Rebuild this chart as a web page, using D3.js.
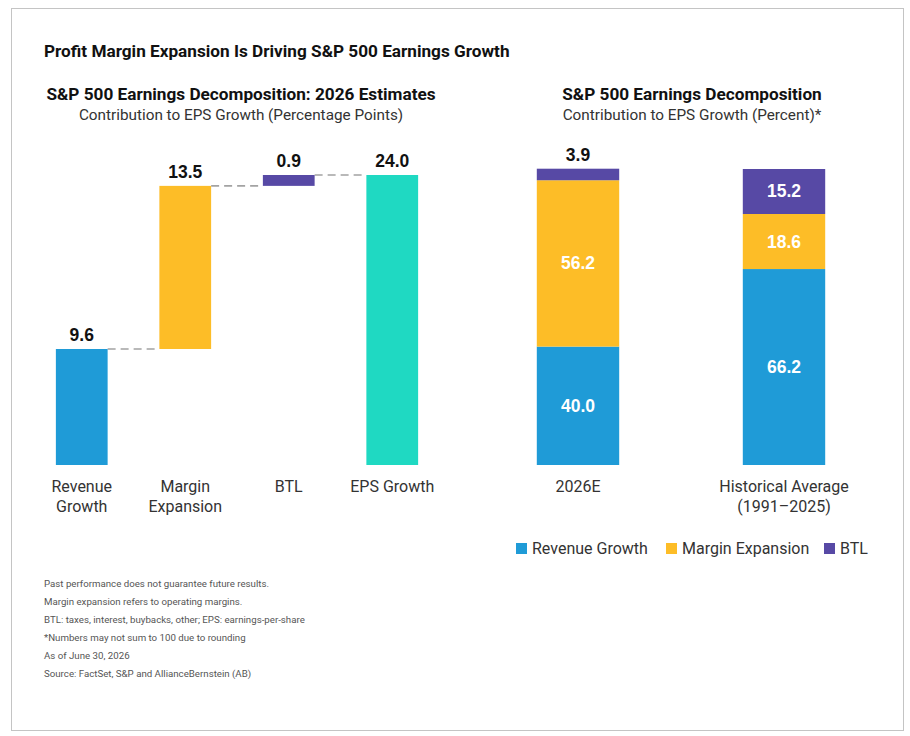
<!DOCTYPE html>
<html>
<head>
<meta charset="utf-8">
<script src="https://cdn.jsdelivr.net/npm/d3@7"></script>
<style>
  body { margin: 0; background: #fff; }
  svg { display: block; }
</style>
</head>
<body>
<svg id="chart"></svg>
<script>
// left chart: waterfall, percentage points
const stepNames = ["Revenue Growth", "Margin Expansion", "BTL", "EPS Growth"];
const stepLines = [["Revenue", "Growth"], ["Margin", "Expansion"], ["BTL"], ["EPS Growth"]];
const stepValues = [9.6, 13.5, 0.9, 24.0];
const stepIsTotal = [false, false, false, true];

// right chart: stacked, percent
const periods = ["2026E", "Historical Average"];
const periodLines = [["2026E"], ["Historical Average", "(1991\u20132025)"]];
const seriesNames = ["Revenue Growth", "Margin Expansion", "BTL"];
const revenueShare = [40.0, 66.2];
const marginShare = [56.2, 18.6];
const btlShare = [3.9, 15.2];

const notes = [
  "Past performance does not guarantee future results.",
  "Margin expansion refers to operating margins.",
  "BTL: taxes, interest, buybacks, other; EPS: earnings-per-share",
  "*Numbers may not sum to 100 due to rounding",
  "As of June 30, 2026",
  "Source: FactSet, S&P and AllianceBernstein (AB)"
];

const colors = {
  "Revenue Growth": "#1f9bd7",
  "Margin Expansion": "#fdbd27",
  "BTL": "#5749a5",
  "EPS Growth": "#1fd9c2"
};

const W = 910, H = 736;
const svg = d3.select("#chart").attr("width", W).attr("height", H);

// frame
svg.append("rect")
  .attr("x", 11.5).attr("y", 8.5)
  .attr("width", 892).attr("height", 722)
  .attr("fill", "#fff").attr("stroke", "#c4c4c4");

const titleFont = "Roboto, 'Liberation Sans', sans-serif";
const labelFont = "'Liberation Sans', Arial, sans-serif";

svg.append("text")
  .attr("x", 44).attr("y", 57)
  .attr("font-family", titleFont).attr("font-weight", 700)
  .attr("font-size", 17.2).attr("fill", "#111")
  .text("Profit Margin Expansion Is Driving S&P 500 Earnings Growth");

function heading(cx, title, sub) {
  svg.append("text")
    .attr("x", cx).attr("y", 100).attr("text-anchor", "middle")
    .attr("font-family", titleFont).attr("font-weight", 700)
    .attr("font-size", 17.2).attr("fill", "#111")
    .text(title);
  svg.append("text")
    .attr("x", cx).attr("y", 120).attr("text-anchor", "middle")
    .attr("font-family", titleFont).attr("font-weight", 400)
    .attr("font-size", 15.3).attr("fill", "#333")
    .text(sub);
}
heading(241, "S&P 500 Earnings Decomposition: 2026 Estimates", "Contribution to EPS Growth (Percentage Points)");
heading(692, "S&P 500 Earnings Decomposition", "Contribution to EPS Growth (Percent)*");

// ---- waterfall ----
const x1 = d3.scaleBand().domain(stepNames).range([30, 444])
  .paddingInner(0.5).paddingOuter(0.25);
const y1 = d3.scaleLinear().domain([0, 24]).range([465, 175]);

let run = 0;
const steps = stepNames.map((name, i) => {
  const v = stepValues[i];
  let lo, hi;
  if (stepIsTotal[i]) { lo = 0; hi = v; }
  else { lo = run; hi = run + v; run = hi; }
  return { name, lines: stepLines[i], value: v, lo, hi };
});

const left = svg.append("g");

// dashed connectors between bars
left.selectAll(".link")
  .data(steps.slice(0, -1))
  .enter()
  .append("line")
  .classed("link", true)
  .attr("x1", d => x1(d.name) + x1.bandwidth())
  .attr("x2", (d, i) => x1(steps[i + 1].name))
  .attr("y1", d => y1(d.hi))
  .attr("y2", d => y1(d.hi))
  .attr("stroke", "#a3a3a3")
  .attr("stroke-width", 1.6)
  .attr("stroke-dasharray", "8,5");

left.selectAll(".bar")
  .data(steps)
  .enter()
  .append("rect")
  .classed("bar", true)
  .attr("x", d => x1(d.name))
  .attr("width", x1.bandwidth())
  .attr("y", d => y1(d.hi))
  .attr("height", d => y1(d.lo) - y1(d.hi))
  .attr("fill", d => colors[d.name]);

left.selectAll(".val")
  .data(steps)
  .enter()
  .append("text")
  .classed("val", true)
  .attr("x", d => x1(d.name) + x1.bandwidth() / 2)
  .attr("y", d => y1(d.hi) - 8)
  .attr("text-anchor", "middle")
  .attr("font-family", labelFont).attr("font-weight", 700)
  .attr("font-size", 17.5).attr("fill", "#111")
  .text(d => d.value.toFixed(1));

left.selectAll(".cat")
  .data(steps)
  .enter()
  .append("text")
  .classed("cat", true)
  .attr("x", d => x1(d.name) + x1.bandwidth() / 2)
  .attr("y", 492)
  .attr("text-anchor", "middle")
  .attr("font-family", titleFont).attr("font-size", 16).attr("fill", "#333")
  .each(function (d) {
    d3.select(this).selectAll("tspan")
      .data(d.lines)
      .enter()
      .append("tspan")
      .attr("x", x1(d.name) + x1.bandwidth() / 2)
      .attr("dy", (t, j) => j === 0 ? 0 : 20)
      .text(t => t);
  });

// ---- stacked ----
const x2 = d3.scaleBand().domain(periods).range([475, 887])
  .paddingInner(0.6).paddingOuter(0.3);
const y2 = d3.scaleLinear().domain([0, 100]).range([465, 169]);

const table = periods.map((p, i) => ({
  period: p,
  "Revenue Growth": revenueShare[i],
  "Margin Expansion": marginShare[i],
  "BTL": btlShare[i]
}));
const stacked = d3.stack().keys(seriesNames)(table);

const right = svg.append("g");
const layers = right.selectAll(".layer")
  .data(stacked)
  .enter()
  .append("g")
  .classed("layer", true)
  .attr("fill", d => colors[d.key]);

layers.selectAll("rect")
  .data(d => d)
  .enter()
  .append("rect")
  .attr("x", d => x2(d.data.period))
  .attr("width", x2.bandwidth())
  .attr("y", d => y2(d[1]))
  .attr("height", d => y2(d[0]) - y2(d[1]));

// labels: inside if the segment is tall enough, otherwise above
layers.each(function (layer) {
  d3.select(this).selectAll(".seg")
    .data(layer)
    .enter()
    .append("text")
    .classed("seg", true)
    .attr("x", d => x2(d.data.period) + x2.bandwidth() / 2)
    .attr("y", d => {
      const h = y2(d[0]) - y2(d[1]);
      return h > 25 ? (y2(d[0]) + y2(d[1])) / 2 + 6 : y2(d[1]) - 8;
    })
    .attr("text-anchor", "middle")
    .attr("font-family", labelFont).attr("font-weight", 700)
    .attr("font-size", 17.5)
    .attr("fill", d => (y2(d[0]) - y2(d[1]) > 25) ? "#fff" : "#111")
    .text(d => (d[1] - d[0]).toFixed(1));
});

right.selectAll(".cat")
  .data(periods)
  .enter()
  .append("text")
  .classed("cat", true)
  .attr("y", 492)
  .attr("text-anchor", "middle")
  .attr("font-family", titleFont).attr("font-size", 16).attr("fill", "#333")
  .each(function (p, i) {
    d3.select(this).selectAll("tspan")
      .data(periodLines[i])
      .enter()
      .append("tspan")
      .attr("x", x2(p) + x2.bandwidth() / 2)
      .attr("dy", (t, j) => j === 0 ? 0 : 20)
      .text(t => t);
  });

// legend
const legendX = [516, 666, 824];
const legend = svg.selectAll(".legend")
  .data(seriesNames)
  .enter()
  .append("g")
  .classed("legend", true)
  .attr("transform", (d, i) => `translate(${legendX[i]}, 543)`);
legend.append("rect")
  .attr("width", 11).attr("height", 11)
  .attr("fill", d => colors[d]);
legend.append("text")
  .attr("x", 16).attr("y", 11)
  .attr("font-family", titleFont).attr("font-size", 16).attr("fill", "#333")
  .text(d => d);

// footnotes
svg.selectAll(".note")
  .data(notes)
  .enter()
  .append("text")
  .classed("note", true)
  .attr("x", 44)
  .attr("y", (d, i) => 587 + i * 17.9)
  .attr("font-family", titleFont).attr("font-size", 9.7).attr("fill", "#555")
  .text(d => d);
</script>
</body>
</html>
